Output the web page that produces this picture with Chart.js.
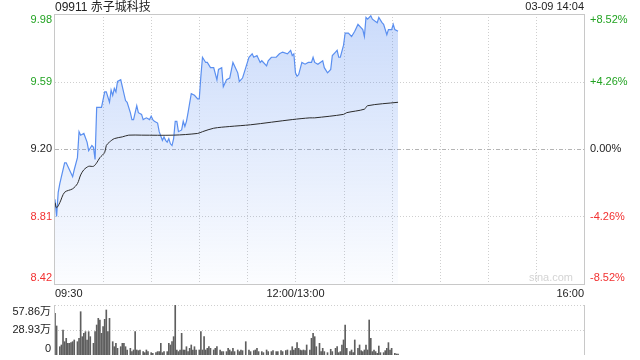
<!DOCTYPE html>
<html>
<head>
<meta charset="utf-8">
<script src="https://cdn.jsdelivr.net/npm/chart.js@4"></script>
<style>
  html, body { margin: 0; padding: 0; background: #fff; }
  #wrap { position: relative; width: 640px; height: 360px; }
  #price-chart { position: absolute; left: 0; top: 0; }
  #vol-chart { position: absolute; left: 0; top: 300px; }
</style>
</head>
<body>
<div id="wrap">
  <canvas id="price-chart" width="640" height="300"></canvas>
  <canvas id="vol-chart" width="640" height="60"></canvas>
</div>
<script>
const stockTitle = '09911 赤子城科技';
const stampText = '03-09 14:04';
const prevClose = 9.20;

// minutes after 09:30 (lunch break removed), 330 = 16:00
const priceTimes = [0,1,2,3,4,6,7,9,11,12,14,15,16,18,20,21,23,24,25,26,27,29,31,32,34,35,36,37,38,39,41,42,44,45,47,48,49,51,52,54,55,57,59,60,61,62,64,65,67,68,69,70,71,72,73,74,75,76,77,79,80,81,82,83,85,87,89,90,91,92,94,95,97,99,101,102,104,105,107,109,111,114,115,117,119,121,123,124,126,128,129,132,133,135,138,140,142,145,147,148,149,150,151,152,154,156,158,160,161,162,164,167,168,170,172,173,175,176,177,178,180,181,183,185,187,189,192,193,194,195,197,198,201,202,204,205,207,208,210,211,212,214];
const priceValues = [8.91,8.81,8.95,9.00,9.04,9.12,9.12,9.08,9.04,9.08,9.15,9.30,9.28,9.29,9.24,9.19,9.22,9.21,9.14,9.44,9.44,9.44,9.53,9.53,9.47,9.54,9.51,9.55,9.53,9.59,9.60,9.56,9.48,9.47,9.41,9.37,9.37,9.45,9.41,9.40,9.37,9.38,9.37,9.39,9.37,9.36,9.35,9.30,9.25,9.27,9.25,9.24,9.26,9.23,9.22,9.26,9.36,9.36,9.30,9.31,9.36,9.33,9.36,9.41,9.52,9.51,9.49,9.49,9.62,9.73,9.70,9.70,9.67,9.67,9.60,9.66,9.67,9.56,9.60,9.61,9.70,9.64,9.59,9.61,9.67,9.73,9.75,9.73,9.74,9.70,9.71,9.68,9.71,9.73,9.73,9.75,9.76,9.75,9.77,9.74,9.75,9.64,9.62,9.63,9.70,9.69,9.70,9.70,9.73,9.70,9.69,9.71,9.67,9.64,9.66,9.74,9.76,9.77,9.73,9.73,9.80,9.87,9.87,9.85,9.88,9.92,9.89,9.85,9.96,9.95,9.97,9.95,9.93,9.96,9.93,9.92,9.86,9.89,9.89,9.92,9.89,9.88];

const avgTimes = [0,1,3,6,11,14,16,18,21,24,26,28,31,32,34,37,42,46,54,74,89,92,99,109,122,148,159,162,180,182,193,195,214];
const avgValues = [8.89,8.86,8.89,8.95,8.97,9.00,9.05,9.08,9.10,9.10,9.12,9.15,9.18,9.22,9.24,9.26,9.27,9.28,9.28,9.28,9.29,9.30,9.32,9.33,9.34,9.37,9.38,9.38,9.40,9.41,9.43,9.45,9.47];

// volume in 万 shares
const volTimes = [0,1,3,4,5,6,7,8,9,10,11,12,14,15,16,17,18,19,20,21,22,24,25,26,27,28,29,30,31,32,33,34,36,37,38,39,41,42,43,44,45,47,48,49,50,51,52,53,55,56,57,58,60,61,63,64,65,66,67,68,70,71,72,73,74,75,76,77,78,79,80,81,82,83,84,85,86,87,88,90,91,92,93,94,95,96,97,99,100,101,103,104,105,107,108,109,110,111,112,114,115,116,117,119,121,122,124,125,126,127,129,130,132,133,135,136,138,139,141,142,144,145,147,148,149,150,151,152,153,154,155,156,157,159,160,161,162,163,165,166,167,168,170,172,173,175,176,177,178,179,180,181,182,184,185,186,187,189,190,191,192,193,194,195,196,197,198,199,200,201,202,203,205,206,207,208,209,210,212,213,214];
const volValues = [48.2,33.6,9.6,11.6,28.9,15.4,19.3,13.5,13.5,14.3,15.4,17.4,15.4,19.3,50.1,21.2,25.1,27.0,17.4,27.0,21.2,13.5,27.0,34.7,42.4,40.5,25.1,32.8,41.3,52.1,27.0,42.4,15.4,9.6,13.5,7.7,9.6,13.5,13.5,9.6,5.8,7.7,3.9,5.8,27.0,5.8,5.0,5.8,3.9,2.7,5.8,3.9,2.7,1.9,2.7,3.9,3.9,13.5,2.7,3.9,3.9,13.5,11.6,15.4,21.2,57.9,5.8,3.9,5.8,25.1,5.8,5.8,9.6,3.9,7.7,11.6,5.8,9.6,5.8,5.8,27.0,5.8,21.2,5.8,7.7,9.6,7.7,5.8,7.7,9.6,5.8,3.9,3.9,3.9,7.7,5.8,3.9,7.7,3.9,5.8,3.9,5.8,5.0,15.4,5.8,3.9,5.0,5.8,7.7,3.9,3.9,2.7,5.8,3.9,3.9,5.0,3.9,3.9,5.0,3.9,5.0,5.8,5.0,9.6,5.8,7.7,14.3,7.7,5.8,5.0,5.8,5.0,11.6,5.8,19.3,25.1,21.2,9.6,13.5,3.9,7.7,3.9,2.7,6.6,3.9,7.7,9.6,2.7,3.9,11.6,17.4,34.7,7.7,3.9,5.8,2.7,17.4,7.7,11.6,5.0,3.9,5.8,11.6,5.8,40.5,19.3,3.9,5.8,3.9,1.9,10.4,2.7,2.7,5.0,7.7,14.3,5.8,7.7,1.9,1.2,1.2];

const priceTicks = [8.42, 8.81, 9.20, 9.59, 9.98];
const priceTickText = ['8.42', '8.81', '9.20', '9.59', '9.98'];
const pctTickText = ['-8.52%', '-4.26%', '0.00%', '+4.26%', '+8.52%'];
const volTicks = [0, 28.93, 57.86];
const volTickText = ['0', '28.93万', '57.86万'];
const timeTickPos = [0, 150, 330];
const timeTickText = ['09:30', '12:00/13:00', '16:00'];

const FONT = '11px "Liberation Sans", Arial, "Noto Sans CJK SC", sans-serif';
const GREEN = '#22a322';
const RED = '#f23030';
const GRID = '#cfcfcf';
const FRAME = '#c8c8c8';

function tickColor(v)
{
    if (Math.abs(v - prevClose) < 0.001) return '#222';
    return v > prevClose ? GREEN : RED;
}

function px(v) { return Math.round(v) + 0.5; }

function hLine(ctx, x1, x2, y, color, dash)
{
    ctx.save();
    ctx.strokeStyle = color;
    ctx.lineWidth = 1;
    ctx.setLineDash(dash);
    ctx.beginPath();
    ctx.moveTo(x1, px(y));
    ctx.lineTo(x2, px(y));
    ctx.stroke();
    ctx.restore();
}

function vLine(ctx, x, y1, y2, color, dash)
{
    ctx.save();
    ctx.strokeStyle = color;
    ctx.lineWidth = 1;
    ctx.setLineDash(dash);
    ctx.beginPath();
    ctx.moveTo(px(x), y1);
    ctx.lineTo(px(x), y2);
    ctx.stroke();
    ctx.restore();
}

const priceGrid = {
    id: 'priceGrid',
    beforeDatasetsDraw(chart)
    {
        const ctx = chart.ctx;
        const a = chart.chartArea;
        const xs = chart.scales.x;
        const ys = chart.scales.y;

        for (let m = 30; m < 330; m += 30)
        {
            vLine(ctx, xs.getPixelForValue(m), a.top, a.bottom, GRID, [1, 2]);
        }
        for (const v of priceTicks)
        {
            const y = ys.getPixelForValue(v);
            if (v === priceTicks[0] || v === priceTicks[priceTicks.length - 1]) continue;
            if (Math.abs(v - prevClose) < 0.001)
                hLine(ctx, a.left, a.right, y, '#b4b4b4', [4, 2, 1, 2]);
            else
                hLine(ctx, a.left, a.right, y, GRID, [1, 2]);
        }
    },
    afterDraw(chart)
    {
        const ctx = chart.ctx;
        const a = chart.chartArea;
        const xs = chart.scales.x;
        const ys = chart.scales.y;

        // frame
        ctx.save();
        ctx.strokeStyle = FRAME;
        ctx.lineWidth = 1;
        ctx.strokeRect(px(a.left) - 1, px(a.top), Math.round(a.right - a.left) + 1, Math.round(a.bottom - a.top));
        ctx.restore();

        ctx.save();
        ctx.font = FONT;
        ctx.textBaseline = 'middle';
        for (let i = 0; i < priceTicks.length; i++)
        {
            let y = ys.getPixelForValue(priceTicks[i]);
            if (i === 0) y -= 6;
            if (i === priceTicks.length - 1) y += 6;
            ctx.fillStyle = tickColor(priceTicks[i]);
            ctx.textAlign = 'right';
            ctx.fillText(priceTickText[i], a.left - 3, y);
            ctx.textAlign = 'left';
            ctx.fillText(pctTickText[i], a.right + 6, y);
        }

        ctx.fillStyle = '#222';
        for (let i = 0; i < timeTickPos.length; i++)
        {
            const x = xs.getPixelForValue(timeTickPos[i]);
            ctx.textAlign = i === 0 ? 'left' : (i === timeTickPos.length - 1 ? 'right' : 'center');
            ctx.fillText(timeTickText[i], x, a.bottom + 10);
        }

        ctx.fillStyle = '#d4d4d4';
        ctx.textAlign = 'right';
        ctx.fillText('sina.com', a.right - 11, a.bottom - 6);

        ctx.fillStyle = '#222';
        ctx.font = '12px "Liberation Sans", Arial, "Noto Sans CJK SC", sans-serif';
        ctx.textAlign = 'left';
        ctx.fillText(stockTitle, a.left, 8);
        ctx.font = FONT;
        ctx.textAlign = 'right';
        ctx.fillText(stampText, a.right, 7);
        ctx.restore();
    }
};

const volGrid = {
    id: 'volGrid',
    beforeDatasetsDraw(chart)
    {
        const ctx = chart.ctx;
        const a = chart.chartArea;
        const ys = chart.scales.y;
        hLine(ctx, a.left, a.right, ys.getPixelForValue(volTicks[2]), GRID, [1, 2]);
        hLine(ctx, a.left, a.right, ys.getPixelForValue(volTicks[1]), GRID, [1, 2]);
        vLine(ctx, a.left - 1, a.top, a.bottom, FRAME, []);
        vLine(ctx, a.right, a.top, a.bottom, FRAME, []);
    },
    afterDraw(chart)
    {
        const ctx = chart.ctx;
        const a = chart.chartArea;
        const ys = chart.scales.y;
        ctx.save();
        ctx.font = FONT;
        ctx.textBaseline = 'middle';
        ctx.textAlign = 'right';
        ctx.fillStyle = '#222';
        for (let i = 0; i < volTicks.length; i++)
        {
            let y = ys.getPixelForValue(volTicks[i]);
            if (i === 0) y -= 6;
            if (i === volTicks.length - 1) y += 7;
            ctx.fillText(volTickText[i], a.left - 4, y);
        }
        ctx.restore();
    }
};

function fillGradient(context)
{
    const area = context.chart.chartArea;
    if (!area) return 'rgba(90,140,235,0.2)';
    const g = context.chart.ctx.createLinearGradient(0, area.top, 0, area.bottom);
    g.addColorStop(0, 'rgba(82,136,240,0.30)');
    g.addColorStop(1, 'rgba(82,136,240,0.02)');
    return g;
}

const priceData = priceTimes.map((t, i) => ({ x: t, y: priceValues[i] }));
const avgData = avgTimes.map((t, i) => ({ x: t, y: avgValues[i] }));
const volData = volTimes.map((t, i) => ({ x: t, y: volValues[i] }));

new Chart(document.getElementById('price-chart'), {
    type: 'line',
    data: {
        datasets: [
            {
                data: avgData,
                borderColor: '#2b2b2b',
                borderWidth: 1,
                pointRadius: 0,
                fill: false,
                tension: 0.3
            },
            {
                data: priceData,
                borderColor: '#5a8ff0',
                borderWidth: 1.2,
                pointRadius: 0,
                fill: 'start',
                backgroundColor: fillGradient,
                tension: 0
            }
        ]
    },
    options: {
        responsive: false,
        animation: false,
        layout: { padding: { left: 55, right: 56, top: 14, bottom: 16 } },
        plugins: { legend: { display: false }, tooltip: { enabled: false } },
        scales: {
            x: { type: 'linear', min: 0, max: 330, display: false },
            y: { min: 8.42, max: 9.98, display: false }
        }
    },
    plugins: [priceGrid]
});

new Chart(document.getElementById('vol-chart'), {
    type: 'bar',
    data: {
        datasets: [{
            data: volData,
            backgroundColor: '#5e5e5e',
            barThickness: 1,
            borderWidth: 0
        }]
    },
    options: {
        responsive: false,
        animation: false,
        layout: { padding: { left: 55, right: 56, top: 5, bottom: 5 } },
        plugins: { legend: { display: false }, tooltip: { enabled: false } },
        scales: {
            x: { type: 'linear', min: 0, max: 330, display: false, offset: false },
            y: { min: 0, max: 57.86, display: false }
        }
    },
    plugins: [volGrid]
});
</script>
</body>
</html>
